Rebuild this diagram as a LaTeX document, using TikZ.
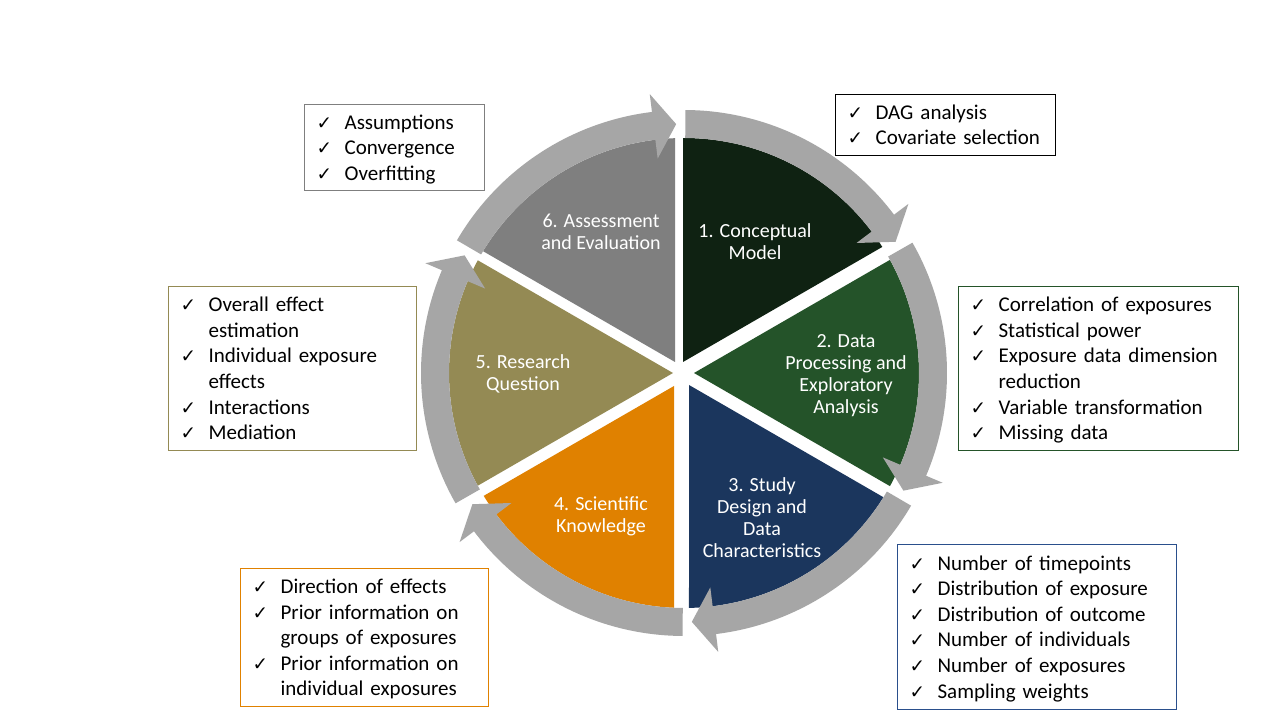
\documentclass[tikz,border=0pt]{standalone}
\usepackage{fontspec}
\setmainfont{Carlito}
\newfontfamily\checkfont{DejaVu Sans}
\usetikzlibrary{calc}

\definecolor{segA}{HTML}{0F2212}
\definecolor{segB}{HTML}{245329}
\definecolor{segC}{HTML}{1B365D}
\definecolor{segD}{HTML}{E08100}
\definecolor{segE}{HTML}{948A54}
\definecolor{segF}{HTML}{7F7F7F}
\definecolor{ring}{HTML}{A6A6A6}
\definecolor{frameF}{HTML}{2A4F8C}

% radii of the pie and of the ring of arrows
\def\Rw{235}
\def\Rin{235}
\def\Rout{263}
\def\Hin{216}
\def\Hout{281}
\def\Rtip{249}

% list helpers: one strut per line keeps the line pitch at 25.6pt
\newcommand{\lstrut}{\rule[-5.7pt]{0pt}{25.6pt}}
\newcommand{\chk}{\lstrut\makebox[28pt][l]{\checkfont\fontsize{18.5}{18.5}\selectfont ✓}}
\newcommand{\cont}{\lstrut\hspace*{28pt}}

% pie slice: apex (#1,#2) relative to the centre, edges along #3 and #4, colour #5
\newcommand{\pieslice}[5]{%
  \pgfmathsetmacro{\pxa}{(#1)/100}%
  \pgfmathsetmacro{\pya}{(#2)/100}%
  \pgfmathsetmacro{\prr}{\Rw/100}%
  \pgfmathsetmacro{\pca}{(\pxa)*(\pxa)+(\pya)*(\pya)-(\prr)*(\prr)}%
  \pgfmathsetmacro{\ua}{(\pxa)*cos(#3)+(\pya)*sin(#3)}%
  \pgfmathsetmacro{\ta}{0-(\ua)+sqrt((\ua)*(\ua)-(\pca))}%
  \pgfmathsetmacro{\pa}{atan2((\pya)+(\ta)*sin(#3),(\pxa)+(\ta)*cos(#3))}%
  \pgfmathsetmacro{\ub}{(\pxa)*cos(#4)+(\pya)*sin(#4)}%
  \pgfmathsetmacro{\tb}{0-(\ub)+sqrt((\ub)*(\ub)-(\pca))}%
  \pgfmathsetmacro{\pb}{atan2((\pya)+(\tb)*sin(#4),(\pxa)+(\tb)*cos(#4))}%
  \pgfmathsetmacro{\pb}{(\pb)>(\pa) ? (\pb)-360 : (\pb)}%
  \fill[#5] (#1,#2) -- (\pa:\Rw) arc[start angle=\pa, end angle=\pb, radius=\Rw] -- cycle;
}

% curved block arrow running clockwise from angle #1 to angle #2
\newcommand{\ringarrow}[2]{%
  \pgfmathsetmacro{\at}{#1-0.3}%
  \pgfmathsetmacro{\ab}{#2+7}%
  \pgfmathsetmacro{\ap}{#2+1.8}%
  \fill[ring] (\at:\Rout) arc[start angle=\at, end angle=\ab, radius=\Rout]
    -- (\ab:\Hout) -- (\ap:\Rtip) -- (\ab:\Hin) -- (\ab:\Rin)
    arc[start angle=\ab, end angle=\at, radius=\Rin] -- cycle;
}

\tikzset{
  seglabel/.style={text=white, align=center, font=\fontsize{20}{22}\selectfont, inner sep=0pt},
  listbox/.style={line width=1.2pt, anchor=north west, align=left,
    font=\fontsize{21}{25.6}\selectfont, inner xsep=12pt, inner ysep=0pt, text=black},
}

\begin{document}
\begin{tikzpicture}[x=1pt,y=1pt]
\useasboundingbox (0,0) rectangle (1280,720);
\fill[white] (0,0) rectangle (1280,720);

% exploded pie and the ring of arrows around it
\begin{scope}[shift={(684,347)}]
  \pieslice{-1}{11}{90}{30}{segA}
  \pieslice{10}{0}{30}{-30}{segB}
  \pieslice{5}{-12}{-30}{-90}{segC}
  \pieslice{-10}{-13}{-90}{-150}{segD}
  \pieslice{-11}{0}{-150}{-210}{segE}
  \pieslice{-9}{11}{150}{90}{segF}
  \ringarrow{90}{30}
  \ringarrow{30}{-30}
  \ringarrow{-30}{-90}
  \ringarrow{-90}{-150}
  \ringarrow{-150}{-210}
  \ringarrow{150}{90}
\end{scope}

% stage labels
\node[seglabel] (lab1) at (755,478) {1. Conceptual\\Model};
\node[seglabel] (lab2) at (846,344) {2. Data\\Processing and\\Exploratory\\Analysis};
\node[seglabel] (lab3) at (762,202) {3. Study\\Design and\\Data\\Characteristics};
\node[seglabel] (lab4) at (601,204) {4. Scientific\\Knowledge};
\node[seglabel] (lab5) at (523,346) {5. Research\\Question};
\node[seglabel] (lab6) at (601,488) {6. Assessment\\and Evaluation};

% checklists
\node[listbox, draw=black, text width=196pt, minimum height=61pt] (dagbox) at (835,626)
  {\chk DAG analysis\\\chk Covariate selection};
\node[listbox, draw=segF, text width=156pt, minimum height=86pt] (assessbox) at (304,616)
  {\chk Assumptions\\\chk Convergence\\\chk Overfitting};
\node[listbox, draw=segB, text width=256pt, minimum height=164pt] (corrbox) at (958,434)
  {\chk Correlation of exposures\\\chk Statistical power\\\chk Exposure data dimension\\\cont reduction\\\chk Variable transformation\\\chk Missing data};
\node[listbox, draw=segE, text width=224pt, minimum height=164pt] (questionbox) at (168,434)
  {\chk Overall effect\\\cont estimation\\\chk Individual exposure\\\cont effects\\\chk Interactions\\\chk Mediation};
\node[listbox, draw=segD, text width=224pt, minimum height=138pt] (knowbox) at (240,152)
  {\chk Direction of effects\\\chk Prior information on\\\cont groups of exposures\\\chk Prior information on\\\cont individual exposures};
\node[listbox, draw=frameF, text width=255pt, minimum height=165pt] (designbox) at (897,176)
  {\chk Number of timepoints\\\chk Distribution of exposure\\\chk Distribution of outcome\\\chk Number of individuals\\\chk Number of exposures\\\chk Sampling weights};
\end{tikzpicture}
\end{document}
